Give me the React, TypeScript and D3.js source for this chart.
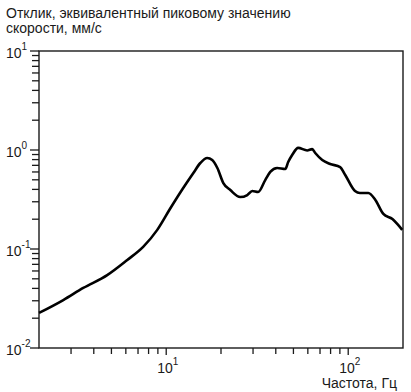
import React from 'react';
import * as d3 from 'd3';

const width = 411;
const height = 392;
const margin = { top: 51, right: 8, bottom: 44, left: 39 };

// frequency, Hz
const freq = [
  2.0, 2.72, 3.5, 4.74, 6.11, 7.47, 8.93, 10.5, 11.9, 14.1, 15.4, 16.8, 17.9, 19.1, 20.6,
  22.5, 25.5, 27.9, 29.7, 32.0, 35.0, 37.3, 40.7, 45.1, 46.8, 49.2, 53.1, 59.5,
  63.4, 65.9, 72.0, 79.6, 90.3, 96.3, 109, 116, 129, 141, 156, 175, 188, 198
];
// response, mm/s
const response = [
  0.0226, 0.0305, 0.0404, 0.0545, 0.0775, 0.105, 0.156, 0.255, 0.368, 0.586, 0.739, 0.83, 0.792,
  0.658, 0.464, 0.394, 0.335, 0.351, 0.385, 0.376, 0.497, 0.6, 0.658, 0.643, 0.756,
  0.89, 1.05, 0.99, 1.02, 0.933, 0.792, 0.722, 0.673, 0.559, 0.385, 0.368, 0.368, 0.313,
  0.226, 0.201, 0.175, 0.156
];

const xMajor = [10, 100];
const xMajorLabels = ['1', '2'];
const xMinor = [3, 4, 5, 6, 7, 8, 9, 20, 30, 40, 50, 60, 70, 80, 90];
const yMajor = [0.01, 0.1, 1, 10];
const yMajorLabels = ['-2', '-1', '0', '1'];
const yMinor = [
  0.02, 0.03, 0.04, 0.05, 0.06, 0.07, 0.08, 0.09,
  0.2, 0.3, 0.4, 0.5, 0.6, 0.7, 0.8, 0.9,
  2, 3, 4, 5, 6, 7, 8, 9
];

const titleLines = ['Отклик, эквивалентный пиковому значению', 'скорости, мм/с'];
const xLabel = 'Частота, Гц';

const font = '"Liberation Sans", Arial, sans-serif';
const ink = '#1a1a1a';

export default function App() {
  const x = d3.scaleLog().domain([2, 200]).range([margin.left, width - margin.right]);
  const y = d3.scaleLog().domain([0.01, 10]).range([height - margin.bottom, margin.top]);

  const data = freq.map((f, i) => [f, response[i]] as [number, number]);
  const line = d3
    .line<[number, number]>()
    .x(d => x(d[0]))
    .y(d => y(d[1]))
    .curve(d3.curveMonotoneX);

  const x0 = margin.left;
  const x1 = width - margin.right;
  const y0 = height - margin.bottom;
  const y1 = margin.top;

  return (
    <svg
      width={width}
      height={height}
      style={{ position: 'absolute', left: 0, top: 0, background: '#fff' }}
      fontFamily={font}
    >
      {titleLines.map((t, i) => (
        <text key={t} x={6} y={18 + i * 15} fontSize={14} fill={ink}>
          {t}
        </text>
      ))}

      {/* frame */}
      <rect x={x0} y={y1} width={x1 - x0} height={y0 - y1} fill="none" stroke={ink} strokeWidth={1.4} />

      {/* y ticks */}
      {yMinor.map(v => (
        <line key={'ym' + v} x1={x0 - 7} x2={x0} y1={y(v)} y2={y(v)} stroke={ink} strokeWidth={1.3} />
      ))}
      {yMajor.map((v, i) => (
        <g key={'yM' + v}>
          <line x1={x0 - 9} x2={x0} y1={y(v)} y2={y(v)} stroke={ink} strokeWidth={1.3} />
          <text x={6} y={y(v) + 7} fontSize={14} fill={ink}>
            10
            <tspan fontSize={10} dy={-8}>
              {yMajorLabels[i]}
            </tspan>
          </text>
        </g>
      ))}

      {/* x ticks */}
      {xMinor.map(v => (
        <line key={'xm' + v} x1={x(v)} x2={x(v)} y1={y0} y2={y0 + 6} stroke={ink} strokeWidth={1.3} />
      ))}
      {xMajor.map((v, i) => (
        <g key={'xM' + v}>
          <line x1={x(v)} x2={x(v)} y1={y0} y2={y0 + 7} stroke={ink} strokeWidth={1.3} />
          <text x={x(v) - 9} y={373} fontSize={14} fill={ink}>
            10
            <tspan fontSize={10} dy={-8}>
              {xMajorLabels[i]}
            </tspan>
          </text>
        </g>
      ))}

      <text x={397} y={388} fontSize={14} textAnchor="end" fill={ink}>
        {xLabel}
      </text>

      <path d={line(data) || ''} fill="none" stroke="#000" strokeWidth={2.6} strokeLinejoin="round" />
    </svg>
  );
}
